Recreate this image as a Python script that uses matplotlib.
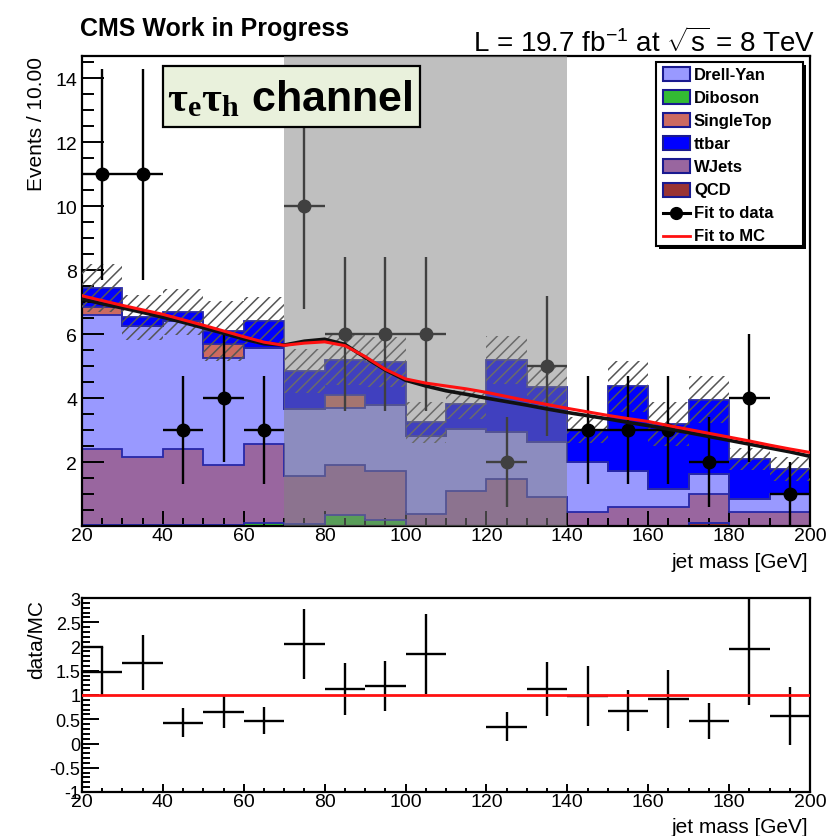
import numpy as np
import matplotlib
matplotlib.use("Agg")
import matplotlib.pyplot as plt
from matplotlib.patches import Rectangle
from matplotlib.lines import Line2D
from matplotlib.ticker import MultipleLocator, FixedLocator, FuncFormatter

plt.rcParams['font.family'] = ['Liberation Sans', 'DejaVu Sans']
plt.rcParams['mathtext.fontset'] = 'custom'
plt.rcParams['mathtext.rm'] = 'Liberation Sans'
plt.rcParams['mathtext.it'] = 'Liberation Sans'
plt.rcParams['mathtext.bf'] = 'Liberation Serif:bold'
plt.rcParams['hatch.linewidth'] = 1.1

# ---- binning (jet mass, GeV) ----
bin_edges = np.arange(20, 201, 10)

# ---- MC background components per bin ----
qcd       = [0.03, 0.03, 0.03, 0.03, 0.00, 0.00, 0.00, 0.00, 0.00,
             0.00, 0.00, 0.00, 0.00, 0.00, 0.00, 0.08, 0.00, 0.00]
diboson   = [0.00, 0.00, 0.00, 0.00, 0.10, 0.05, 0.35, 0.20, 0.00,
             0.00, 0.00, 0.00, 0.00, 0.00, 0.00, 0.00, 0.00, 0.00]
wjets     = [2.37, 2.12, 2.37, 1.87, 2.46, 1.52, 1.55, 1.53, 0.37,
             1.10, 1.47, 0.90, 0.43, 0.60, 0.60, 0.92, 0.43, 0.43]
drellyan  = [4.20, 4.11, 4.00, 3.37, 3.00, 2.09, 1.78, 2.07, 2.45,
             1.93, 1.48, 1.74, 1.57, 1.13, 0.56, 0.62, 0.41, 0.57]
singletop = [0.26, 0.00, 0.00, 0.42, 0.00, 0.00, 0.41, 0.00, 0.00,
             0.00, 0.00, 0.00, 0.00, 0.00, 0.00, 0.00, 0.00, 0.00]
ttbar     = [0.58, 0.27, 0.28, 0.41, 0.86, 1.19, 1.11, 1.32, 0.42,
             0.78, 2.24, 1.72, 1.00, 2.64, 2.03, 2.33, 1.26, 0.78]
mc_unc    = [0.76, 0.70, 0.72, 0.94, 0.73, 0.70, 0.80, 0.78, 0.63,
             0.45, 0.76, 0.64, 0.40, 0.80, 0.68, 0.73, 0.35, 0.37]

# ---- observed data ----
data_counts = [11, 11, 3, 4, 3, 10, 6, 6, 6, 0, 2, 5, 3, 3, 3, 2, 4, 1]
data_errors = [3.3, 3.3, 1.7, 2.0, 1.7, 3.2, 2.4, 2.4, 2.4, 0.0,
               1.4, 2.2, 1.7, 1.7, 1.7, 1.4, 2.0, 1.0]

# ---- data / MC ratio ----
ratio_vals = [1.48, 1.67, 0.43, 0.65, 0.47, 2.05, 1.13, 1.18, 1.84, np.nan,
              0.35, 1.12, 0.98, 0.68, 0.92, 0.46, 1.95, 0.57]
ratio_errs = [0.50, 0.57, 0.30, 0.33, 0.28, 0.73, 0.54, 0.52, 0.82, np.nan,
              0.30, 0.56, 0.62, 0.42, 0.60, 0.37, 1.15, 0.60]

# ---- fitted shapes, sampled every 5 GeV ----
fit_x = np.arange(20, 201, 5)
fit_to_data = [7.10, 6.95, 6.82, 6.68, 6.53, 6.37, 6.20, 6.03, 5.85, 5.70,
               5.66, 5.78, 5.84, 5.68, 5.27, 4.88, 4.56, 4.38, 4.23, 4.12,
               4.00, 3.89, 3.78, 3.66, 3.55, 3.45, 3.35, 3.24, 3.14, 3.03,
               2.92, 2.80, 2.68, 2.56, 2.44, 2.32, 2.18]
fit_to_mc   = [7.20, 7.05, 6.90, 6.76, 6.62, 6.45, 6.28, 6.10, 5.92, 5.75,
               5.65, 5.72, 5.76, 5.64, 5.30, 4.90, 4.60, 4.47, 4.38, 4.29,
               4.18, 4.05, 3.92, 3.80, 3.68, 3.57, 3.46, 3.36, 3.27, 3.14,
               3.02, 2.90, 2.78, 2.66, 2.53, 2.41, 2.30]

signal_window = (70, 140)

labels = ['Drell-Yan', 'Diboson', 'SingleTop', 'ttbar', 'WJets', 'QCD']
colors = {'Drell-Yan': '#9999ff', 'Diboson': '#33bb33', 'SingleTop': '#cc6a60',
          'ttbar': '#0000ff', 'WJets': '#99669f', 'QCD': '#993333'}
stack_order = [('QCD', qcd), ('Diboson', diboson), ('WJets', wjets),
               ('Drell-Yan', drellyan), ('SingleTop', singletop), ('ttbar', ttbar)]
outline = '#2828a8'

W, H = 829, 837
fig = plt.figure(figsize=(W / 100, H / 100), dpi=100)


def fx(px):
    return px / W


def fy(py):
    return 1 - py / H


ax = fig.add_axes([fx(82), fy(527), fx(810) - fx(82), fy(57) - fy(527)])
rax = fig.add_axes([fx(82), fy(793), fx(810) - fx(82), fy(599) - fy(793)])

centers = 0.5 * (bin_edges[:-1] + bin_edges[1:])
half_w = 0.5 * np.diff(bin_edges)

# stacked backgrounds
base = np.zeros(len(centers))
tops = []
for name, vals in stack_order:
    top = base + np.asarray(vals)
    ax.stairs(top, bin_edges, baseline=base, fill=True, color=colors[name],
              lw=0, zorder=1)
    tops.append(top)
    base = top
for top in tops:
    ax.stairs(top, bin_edges, baseline=None, color=outline, lw=1.3, zorder=2)
total = base

# MC uncertainty band
unc = np.asarray(mc_unc)
ax.bar(centers, 2 * unc, bottom=total - unc, width=2 * half_w, fill=False,
       hatch='///', edgecolor='#555555', linewidth=0, zorder=3)

# data points
dc = np.asarray(data_counts, dtype=float)
de = np.asarray(data_errors)
m = dc > 0
ax.errorbar(centers[m], dc[m], yerr=de[m], xerr=half_w[m], fmt='o',
            color='black', ms=9, elinewidth=1.7, capsize=0, zorder=4)

# signal window shading
ax.axvspan(*signal_window, color='#808080', alpha=0.5, lw=0, zorder=5)

# fits
ax.plot(fit_x, fit_to_data, color='#111111', lw=2.6, zorder=6)
ax.plot(fit_x, fit_to_mc, color='#ff1010', lw=2.2, zorder=7)

ax.set_xlim(20, 200)
ax.set_ylim(0, 14.7)
ax.xaxis.set_major_locator(MultipleLocator(20))
ax.xaxis.set_minor_locator(MultipleLocator(5))
ax.yaxis.set_major_locator(FixedLocator([2, 4, 6, 8, 10, 12, 14]))
ax.yaxis.set_minor_locator(MultipleLocator(0.5))
ax.tick_params(axis='y', which='major', direction='in', length=15.5, width=1.4,
               labelsize=14, pad=3.5)
ax.tick_params(axis='y', which='minor', direction='in', length=8.5, width=1.4)
ax.tick_params(axis='x', which='major', direction='in', length=10.5, width=1.4,
               labelsize=14, pad=1)
ax.tick_params(axis='x', which='minor', direction='in', length=5.8, width=1.4)
ax.tick_params(top=False, right=False)
for s in ax.spines.values():
    s.set_linewidth(1.6)

# ratio panel
rv = np.asarray(ratio_vals)
re = np.asarray(ratio_errs)
rm = ~np.isnan(rv)
rax.errorbar(centers[rm], rv[rm], yerr=re[rm], xerr=half_w[rm], fmt='none',
             ecolor='black', elinewidth=1.7, capsize=0, zorder=3)
rax.plot([bin_edges[0], centers[0]], [rv[0] + re[0]] * 2, color='black',
         lw=1.7, zorder=3)
rax.axhline(1.0, color='#ff1010', lw=2.0, zorder=5)
rax.set_xlim(20, 200)
rax.set_ylim(-1, 3)
rax.xaxis.set_major_locator(MultipleLocator(20))
rax.xaxis.set_minor_locator(MultipleLocator(5))
rax.yaxis.set_major_locator(MultipleLocator(0.5))
rax.yaxis.set_minor_locator(MultipleLocator(0.1))
rax.yaxis.set_major_formatter(FuncFormatter(lambda v, p: f'{v:g}'))
rax.tick_params(axis='y', which='major', direction='in', length=12, width=1.4,
                labelsize=13, pad=1)
rax.tick_params(axis='y', which='minor', direction='in', length=6, width=1.4)
rax.tick_params(axis='x', which='major', direction='in', length=6, width=1.4,
                labelsize=14, pad=1)
rax.tick_params(axis='x', which='minor', direction='in', length=3, width=1.4)
rax.tick_params(top=False, right=False)
for s in rax.spines.values():
    s.set_linewidth(1.6)

# axis titles
fig.text(fx(37), fy(57), 'Events / 10.00', rotation=90, ha='center', va='top',
         fontsize=15)
fig.text(fx(808), fy(562), 'jet mass [GeV]', ha='right', va='center', fontsize=15)
fig.text(fx(37), fy(600), 'data/MC', rotation=90, ha='center', va='top',
         fontsize=15)
fig.text(fx(808), fy(828), 'jet mass [GeV]', ha='right', va='center', fontsize=15)

# headers
fig.text(fx(80), fy(36), 'CMS Work in Progress', ha='left', va='baseline',
         fontsize=18, fontweight='bold')
fig.text(fx(815), fy(52), r'L = 19.7 fb$^{-1}$ at $\sqrt{s}$ = 8 TeV', ha='right',
         va='baseline', fontsize=20)

# channel box
fig.add_artist(Rectangle((fx(163), fy(128)), fx(420) - fx(163), fy(67) - fy(128),
                         transform=fig.transFigure, facecolor='#e9f1dc',
                         edgecolor='black', lw=1.6, zorder=10))
fig.text(fx(167), fy(111), r'$\mathbf{\tau_{e}\tau_{h}}$ channel', ha='left',
         va='baseline', fontsize=31, fontweight='bold', zorder=11)

# legend
lx0, lx1, ly0, ly1 = 656, 803, 63, 247
fig.add_artist(Rectangle((fx(lx0 + 3), fy(ly1 + 3)), fx(lx1) - fx(lx0),
                         fy(ly0) - fy(ly1), transform=fig.transFigure,
                         facecolor='black', edgecolor='black', lw=0, zorder=10))
fig.add_artist(Rectangle((fx(lx0), fy(ly1)), fx(lx1) - fx(lx0), fy(ly0) - fy(ly1),
                         transform=fig.transFigure, facecolor='white',
                         edgecolor='black', lw=1.5, zorder=11))
entries = labels + ['Fit to data', 'Fit to MC']
for i, lab in enumerate(entries):
    yc = 75 + i * 23.1
    if lab in colors:
        fig.add_artist(Rectangle((fx(663), fy(yc + 7)), fx(690) - fx(663),
                                 fy(yc - 7) - fy(yc + 7), transform=fig.transFigure,
                                 facecolor=colors[lab], edgecolor='#1a1a90',
                                 lw=1.5, zorder=12))
    elif lab == 'Fit to data':
        fig.add_artist(Line2D([fx(663), fx(690)], [fy(yc), fy(yc)],
                              transform=fig.transFigure, color='black', lw=2.2,
                              zorder=12))
        fig.add_artist(Line2D([fx(676.5)], [fy(yc)], transform=fig.transFigure,
                              marker='o', ms=8.5, color='black', zorder=12))
    else:
        fig.add_artist(Line2D([fx(663), fx(690)], [fy(yc), fy(yc)],
                              transform=fig.transFigure, color='#ff1010', lw=2.0,
                              zorder=12))
    fig.text(fx(694), fy(yc), lab, ha='left', va='center', fontsize=12,
             fontweight='bold', zorder=12)

fig.savefig('out.png', dpi=100)
